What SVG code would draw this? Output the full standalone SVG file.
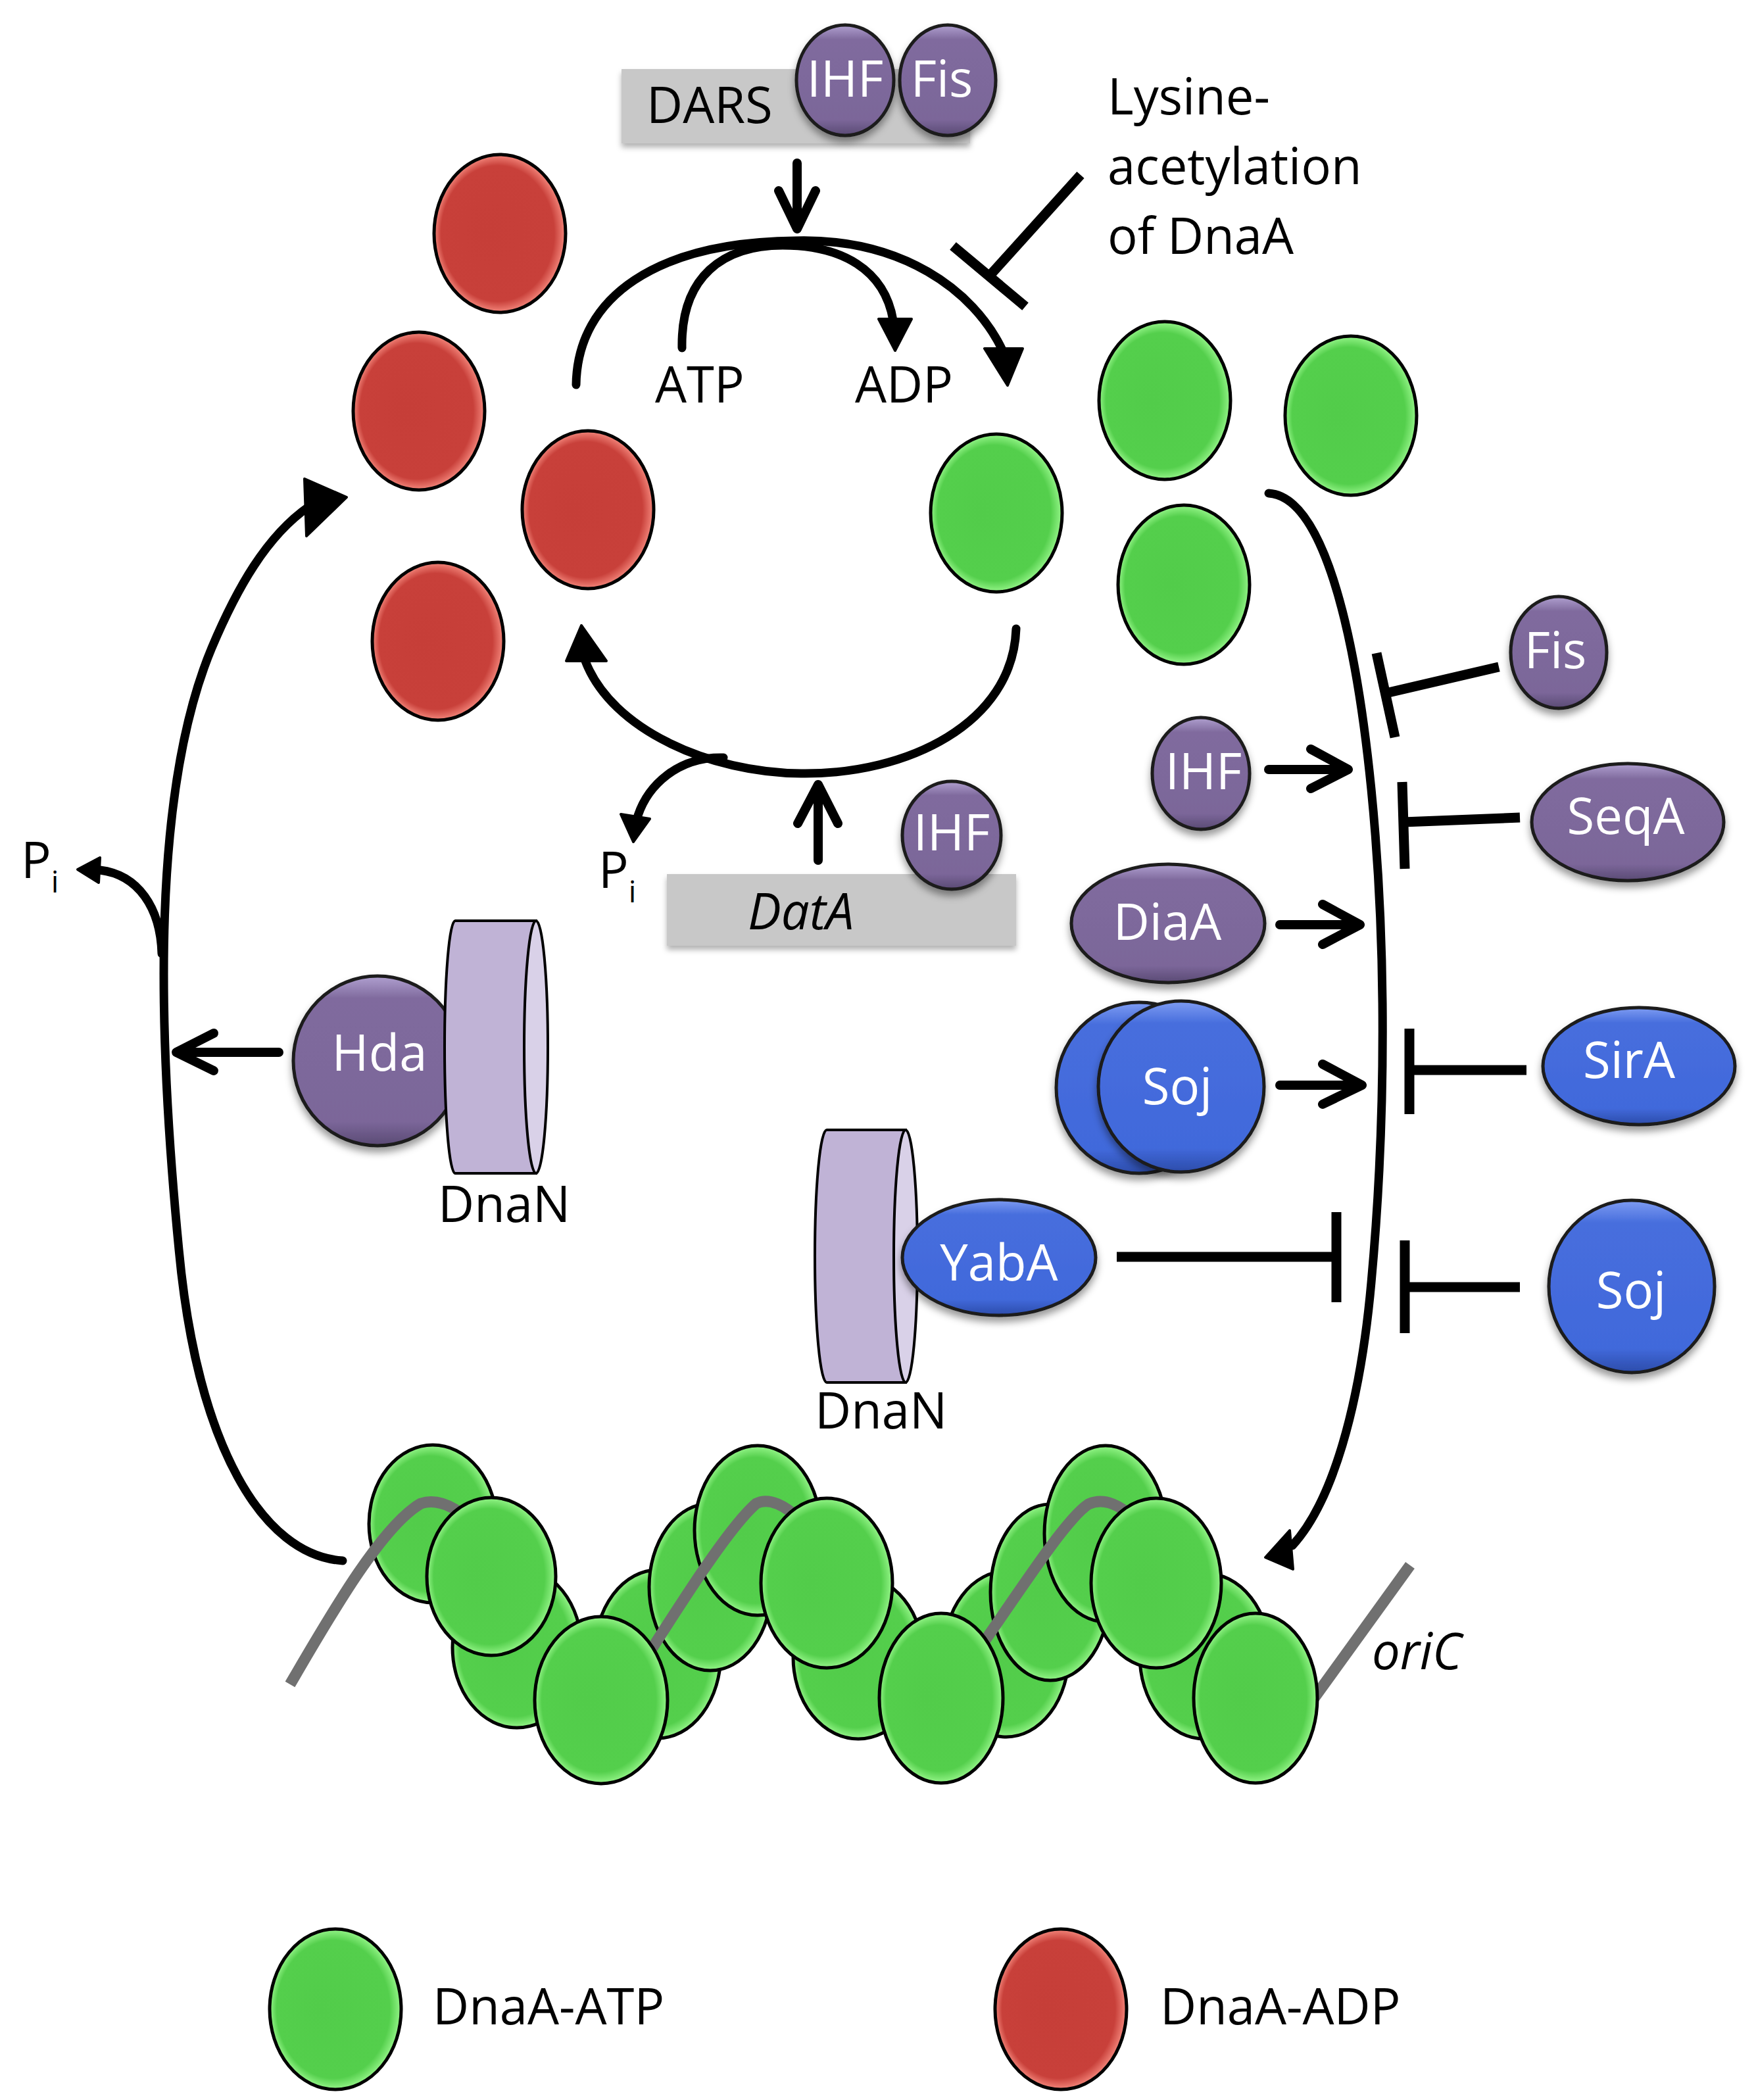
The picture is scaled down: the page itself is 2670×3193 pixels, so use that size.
<svg xmlns="http://www.w3.org/2000/svg" width="2670" height="3193" viewBox="0 0 2670 3193">
<defs>
<radialGradient id="gRed" cx="0.5" cy="0.5" r="0.5" fx="0.38" fy="0.5">
<stop offset="0" stop-color="#C63E38"/><stop offset="0.86" stop-color="#C8403A"/><stop offset="1" stop-color="#F4877C"/>
</radialGradient>
<radialGradient id="gGreen" cx="0.5" cy="0.5" r="0.5" fx="0.38" fy="0.5">
<stop offset="0" stop-color="#52CC4A"/><stop offset="0.86" stop-color="#54CF4C"/><stop offset="1" stop-color="#95F589"/>
</radialGradient>
<linearGradient id="gPur" x1="0" y1="0" x2="0" y2="1">
<stop offset="0" stop-color="#B0A0D0"/><stop offset="0.13" stop-color="#806B9E"/><stop offset="0.86" stop-color="#7B6699"/><stop offset="1" stop-color="#5A4A74"/>
</linearGradient>
<linearGradient id="gBlue" x1="0" y1="0" x2="0" y2="1">
<stop offset="0" stop-color="#7E9CF2"/><stop offset="0.13" stop-color="#476EDD"/><stop offset="0.86" stop-color="#4169DB"/><stop offset="1" stop-color="#2C4CAA"/>
</linearGradient>
<filter id="sh" x="-20%" y="-20%" width="140%" height="150%">
<feDropShadow dx="0" dy="8" stdDeviation="6" flood-color="#000" flood-opacity="0.4"/>
</filter>
<filter id="bsh" x="-10%" y="-20%" width="120%" height="150%">
<feDropShadow dx="0" dy="6" stdDeviation="4" flood-color="#000" flood-opacity="0.3"/>
</filter>
<style>
.red{fill:url(#gRed);stroke:#000;stroke-width:5}
.grn{fill:url(#gGreen);stroke:#000;stroke-width:5}
.pur{fill:url(#gPur);stroke:#1A1A1A;stroke-width:5;filter:url(#sh)}
.blu{fill:url(#gBlue);stroke:#1A1A1A;stroke-width:5;filter:url(#sh)}
.box{fill:#C8C8C8;filter:url(#bsh)}
.cylb{fill:#C0B3D6;stroke:#000;stroke-width:4}
.cylf{fill:#D9D1E8;stroke:#000;stroke-width:4}
.t{font-family:"Open Sans","Noto Sans",sans-serif;font-size:76px;fill:#000}
.w{font-family:"Open Sans","Noto Sans",sans-serif;font-size:76px;fill:#FFF;text-anchor:middle}
.it{font-style:italic}
.ln{fill:none;stroke:#000;stroke-width:13;stroke-linecap:round}
.ar{fill:none;stroke:#000;stroke-width:14;stroke-linecap:round;stroke-linejoin:round}
.br{fill:none;stroke:#000;stroke-width:15}
.hd{fill:#000;stroke:#000;stroke-width:4;stroke-linejoin:round}
.dna{fill:none;stroke:#707070;stroke-width:17}
</style>
</defs>
<rect width="2670" height="3193" fill="#FFF"/>

<g id="dars">
<rect class="box" x="945" y="105" width="530" height="113"/>
<text class="t" x="983" y="187">DARS</text>
</g>
<g id="ihf-dars"><ellipse class="pur" cx="1285" cy="122" rx="74" ry="84"/><text class="w" x="1285" y="147" font-size="72">IHF</text></g>
<g id="fis-dars"><ellipse class="pur" cx="1441" cy="122" rx="73" ry="84"/><text class="w" x="1432" y="147" font-size="72">Fis</text></g>

<g id="lysine"><text class="t" x="1684" y="174">Lysine-</text><text class="t" x="1684" y="280">acetylation</text><text class="t" x="1684" y="386">of DnaA</text></g>

<g id="atp-label"><text class="t" x="996" y="612">ATP</text></g>
<g id="adp-label"><text class="t" x="1300" y="612">ADP</text></g>

<g id="dnaa-adp-pool">
<ellipse class="red" cx="760" cy="355" rx="100" ry="120"/>
<ellipse class="red" cx="637" cy="625" rx="100" ry="120"/>
<ellipse class="red" cx="894" cy="775" rx="100" ry="120"/>
<ellipse class="red" cx="666" cy="975" rx="100" ry="120"/>
</g>
<g id="dnaa-atp-pool">
<ellipse class="grn" cx="1515" cy="780" rx="100" ry="120"/>
<ellipse class="grn" cx="1771" cy="609" rx="100" ry="120"/>
<ellipse class="grn" cx="2054" cy="632" rx="100" ry="121"/>
<ellipse class="grn" cx="1800" cy="889" rx="100" ry="121"/>
</g>

<g id="data">
<rect class="box" x="1014" y="1329" width="531" height="109"/>
<text class="t it" x="1137" y="1413">DatA</text>
</g>
<g id="ihf-data"><ellipse class="pur" cx="1447" cy="1270" rx="75" ry="82"/><text class="w" x="1447" y="1293" font-size="72">IHF</text></g>

<g id="pi-left"><text class="t" x="32" y="1335">P<tspan font-size="46" dy="22">i</tspan></text></g>
<g id="pi-right"><text class="t" x="910" y="1350">P<tspan font-size="46" dy="22">i</tspan></text></g>

<g id="fis"><ellipse class="pur" cx="2370" cy="992" rx="73" ry="85"/><text class="w" x="2365" y="1016">Fis</text></g>
<g id="ihf"><ellipse class="pur" cx="1826" cy="1176" rx="74" ry="85"/><text class="w" x="1830" y="1200">IHF</text></g>
<g id="seqa"><ellipse class="pur" cx="2475" cy="1250" rx="146" ry="89"/><text class="w" x="2472" y="1268">SeqA</text></g>
<g id="diaa"><ellipse class="pur" cx="1776" cy="1404" rx="147" ry="90"/><text class="w" x="1775" y="1429">DiaA</text></g>

<g id="soj-dimer">
<ellipse class="blu" cx="1732" cy="1654" rx="126" ry="130"/>
<ellipse class="blu" cx="1796" cy="1652" rx="126" ry="130"/>
<text class="w" x="1790" y="1679">Soj</text>
</g>
<g id="sira"><ellipse class="blu" cx="2492" cy="1621" rx="146" ry="89"/><text class="w" x="2477" y="1639">SirA</text></g>
<g id="soj"><ellipse class="blu" cx="2481" cy="1956" rx="126" ry="131"/><text class="w" x="2480" y="1989">Soj</text></g>

<g id="hda-dnan">
<ellipse class="pur" cx="574" cy="1613" rx="128" ry="129"/>
<text class="w" x="577" y="1628">Hda</text>
<path class="cylb" d="M692 1400 L815 1400 L815 1784 L692 1784 A16 192 0 0 1 692 1400 Z"/>
<ellipse class="cylf" cx="815" cy="1592" rx="18" ry="192"/>
<text class="t" x="666" y="1858">DnaN</text>
</g>

<g id="yaba-dnan">
<path class="cylb" d="M1257 1718 L1377 1718 L1377 2102 L1257 2102 A18 192 0 0 1 1257 1718 Z"/>
<ellipse class="cylf" cx="1377" cy="1910" rx="18" ry="192"/>
<ellipse class="blu" cx="1519" cy="1912" rx="147" ry="88"/>
<text class="w" x="1519" y="1947">YabA</text>
<text class="t" x="1239" y="2172">DnaN</text>
</g>

<g id="oric">
<ellipse class="grn" cx="658" cy="2317" rx="97" ry="120"/>
<ellipse class="grn" cx="786" cy="2505" rx="98" ry="122"/>
<ellipse class="grn" cx="1000" cy="2515" rx="96" ry="128"/>
<ellipse class="grn" cx="1080" cy="2413" rx="93" ry="127"/>
<ellipse class="grn" cx="1152" cy="2327" rx="96" ry="129"/>
<ellipse class="grn" cx="1305" cy="2520" rx="99" ry="124"/>
<ellipse class="grn" cx="1530" cy="2515" rx="95" ry="126"/>
<ellipse class="grn" cx="1597" cy="2421" rx="91" ry="134"/>
<ellipse class="grn" cx="1681" cy="2332" rx="93" ry="134"/>
<ellipse class="grn" cx="1832" cy="2518" rx="99" ry="126"/>
<path class="dna" d="M441 2561 C500 2460 580 2320 640 2286 C665 2278 690 2290 715 2312"/>
<path class="dna" d="M970 2540 C1040 2430 1110 2320 1150 2286 C1170 2276 1195 2290 1215 2310"/>
<path class="dna" d="M1480 2520 C1550 2420 1620 2310 1655 2287 C1680 2276 1705 2290 1725 2310"/>
<path class="dna" d="M1985 2600 L2144 2380"/>
<ellipse class="grn" cx="747" cy="2397" rx="98" ry="120"/>
<ellipse class="grn" cx="914" cy="2585" rx="101" ry="127"/>
<ellipse class="grn" cx="1257" cy="2407" rx="100" ry="129"/>
<ellipse class="grn" cx="1431" cy="2582" rx="94" ry="129"/>
<ellipse class="grn" cx="1758" cy="2407" rx="99" ry="129"/>
<ellipse class="grn" cx="1909" cy="2582" rx="94" ry="129"/>
<text class="t it" x="2086" y="2538">oriC</text>
</g>

<g id="legend-atp"><ellipse class="grn" cx="510" cy="3055" rx="100" ry="122"/><text class="t" x="658" y="3078">DnaA-ATP</text></g>
<g id="legend-adp"><ellipse class="red" cx="1613" cy="3055" rx="100" ry="122"/><text class="t" x="1764" y="3078">DnaA-ADP</text></g>

<g id="connectors">
<!-- DARS reactivation -->
<path class="ar" d="M1212 248 L1212 344 M1184 290 L1212 348 L1240 290"/>
<path class="ln" d="M876 585 C878 450 1000 368 1210 366 C1370 362 1480 440 1524 532"/>
<polygon class="hd" points="1497,530 1555,530 1532,586"/>
<path class="ln" d="M1037 529 C1035 420 1100 373 1190 373 C1280 373 1345 410 1358 487"/>
<polygon class="hd" points="1336,485 1386,485 1361,533"/>
<path class="br" d="M1643 266 L1504 420 M1449 374 L1559 466"/>
<!-- DatA -->
<path class="ln" d="M1545 956 C1540 1100 1380 1178 1218 1176 C1080 1175 930 1110 890 1005"/>
<polygon class="hd" points="884,951 861,1005 922,1005"/>
<path class="ln" d="M1100 1152 C1030 1150 985 1195 970 1240"/>
<polygon class="hd" points="944,1238 988,1245 963,1280"/>
<path class="ar" d="M1244 1308 L1244 1198 M1213 1252 L1244 1193 L1274 1252"/>
<!-- left RIDA path -->
<path class="ln" d="M521 2373 C400 2365 300 2200 272 1900 C238 1550 232 1200 322 985 C360 895 405 815 470 770"/>
<polygon class="hd" points="463,728 527,756 466,815"/>
<path class="ln" d="M246 1450 C244 1380 210 1330 152 1323"/>
<polygon class="hd" points="118,1322 152,1304 150,1342"/>
<path class="ar" d="M424 1600 L272 1600 M325 1571 L268 1600 L325 1628"/>
<!-- right initiation path -->
<path class="ln" d="M1929 750 C2010 755 2060 950 2085 1200 C2108 1430 2108 1700 2085 1950 C2068 2140 2025 2285 1965 2350"/>
<polygon class="hd" points="1924,2368 1961,2327 1966,2386"/>
<!-- regulators -->
<path class="br" d="M2279 1014 L2107 1054 M2093 993 L2121 1121"/>
<path class="ar" d="M1929 1170 L2046 1170 M1993 1139 L2050 1170 L1993 1199"/>
<path class="br" d="M2311 1243 L2134 1250 M2132 1189 L2136 1321"/>
<path class="ar" d="M1946 1406 L2064 1406 M2011 1375 L2068 1406 L2011 1436"/>
<path class="ar" d="M1946 1650 L2067 1650 M2011 1618 L2071 1650 L2011 1679"/>
<path class="br" d="M2321 1627 L2143 1627 M2143 1564 L2143 1694"/>
<path class="br" d="M1698 1911 L2032 1911 M2032 1843 L2032 1980"/>
<path class="br" d="M2311 1957 L2136 1957 M2136 1886 L2136 2027"/>
</g>
</svg>
